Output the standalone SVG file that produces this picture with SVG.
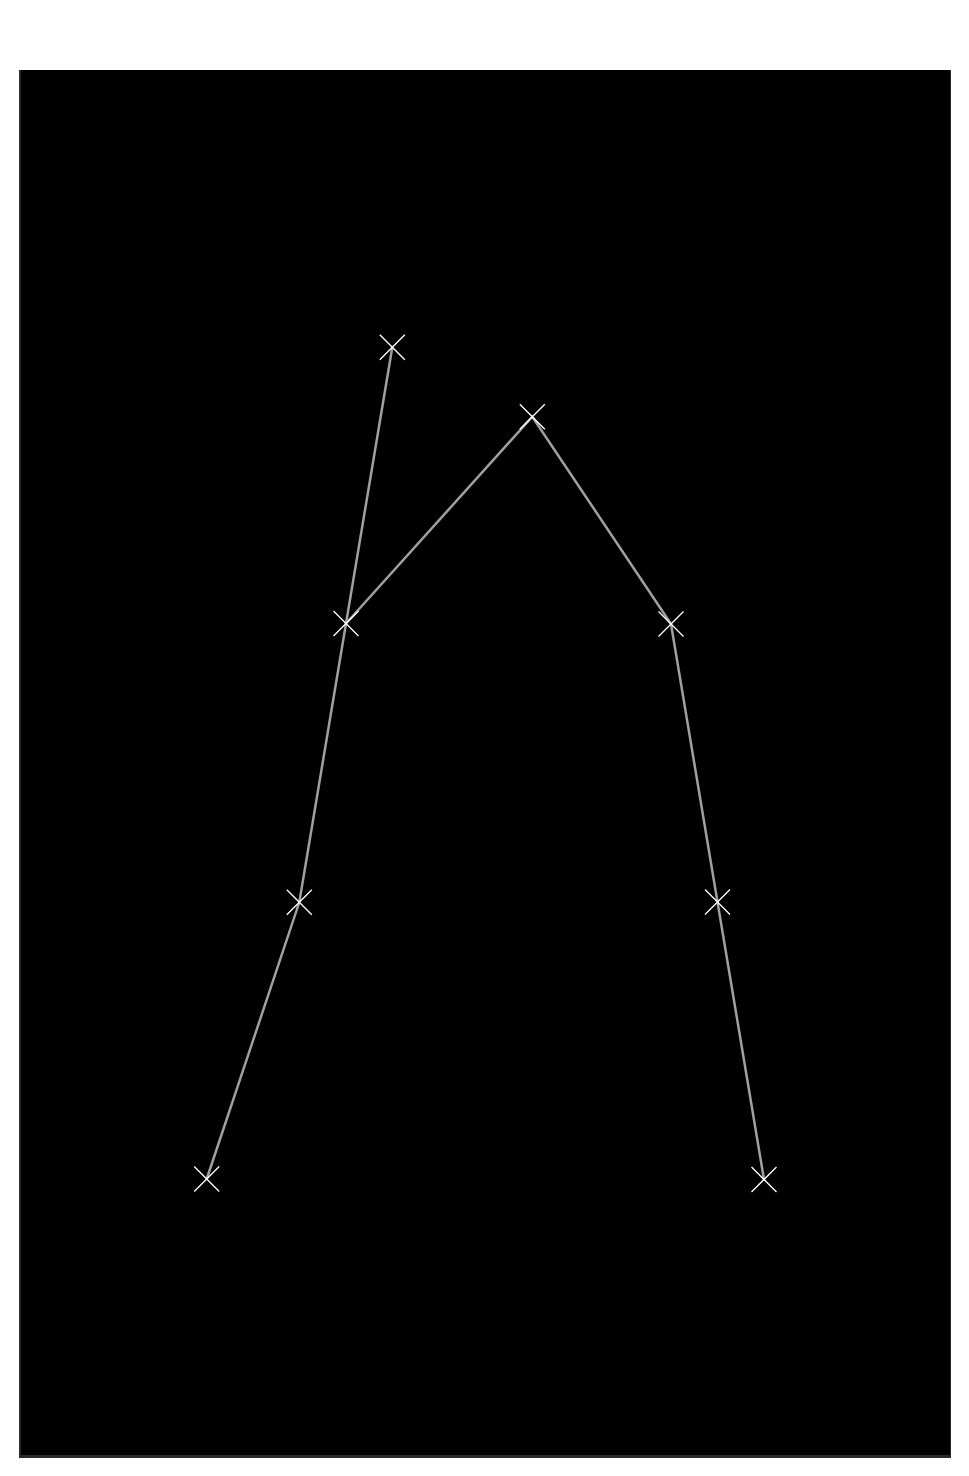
<svg xmlns="http://www.w3.org/2000/svg" width="969" height="1476" viewBox="0 0 969 1476">
<style>
.edge{stroke:#a0a0a0;stroke-width:2.5;fill:none;stroke-linecap:round}
.mk{stroke:#ffffff;stroke-width:1.3;fill:none}
</style>
<defs>
<g id="x"><path class="mk" d="M-12.5,-12.5L12.5,12.5M-12.5,12.5L12.5,-12.5"/></g>
</defs>
<rect x="0" y="0" width="969" height="1476" fill="#ffffff"/>
<rect x="19" y="70" width="932" height="1388" fill="#2a2a2a"/>
<rect x="21" y="70" width="929" height="1385" fill="#000000"/>
<g id="connectors">
<polyline class="edge" points="392.3,347.3 346,623.5 299.3,902.3 206.7,1179"/>
<polyline class="edge" points="346,623.5 532.3,416.7 671,624 717.5,902 764,1179.5"/>
</g>
<g id="n1"><use href="#x" x="392.3" y="347.3"/></g>
<g id="n2"><use href="#x" x="532.3" y="416.7"/></g>
<g id="n3"><use href="#x" x="346" y="623.5"/></g>
<g id="n4"><use href="#x" x="671" y="624"/></g>
<g id="n5"><use href="#x" x="299.3" y="902.3"/></g>
<g id="n6"><use href="#x" x="717.5" y="902"/></g>
<g id="n7"><use href="#x" x="206.7" y="1179"/></g>
<g id="n8"><use href="#x" x="764" y="1179.5"/></g>
</svg>
